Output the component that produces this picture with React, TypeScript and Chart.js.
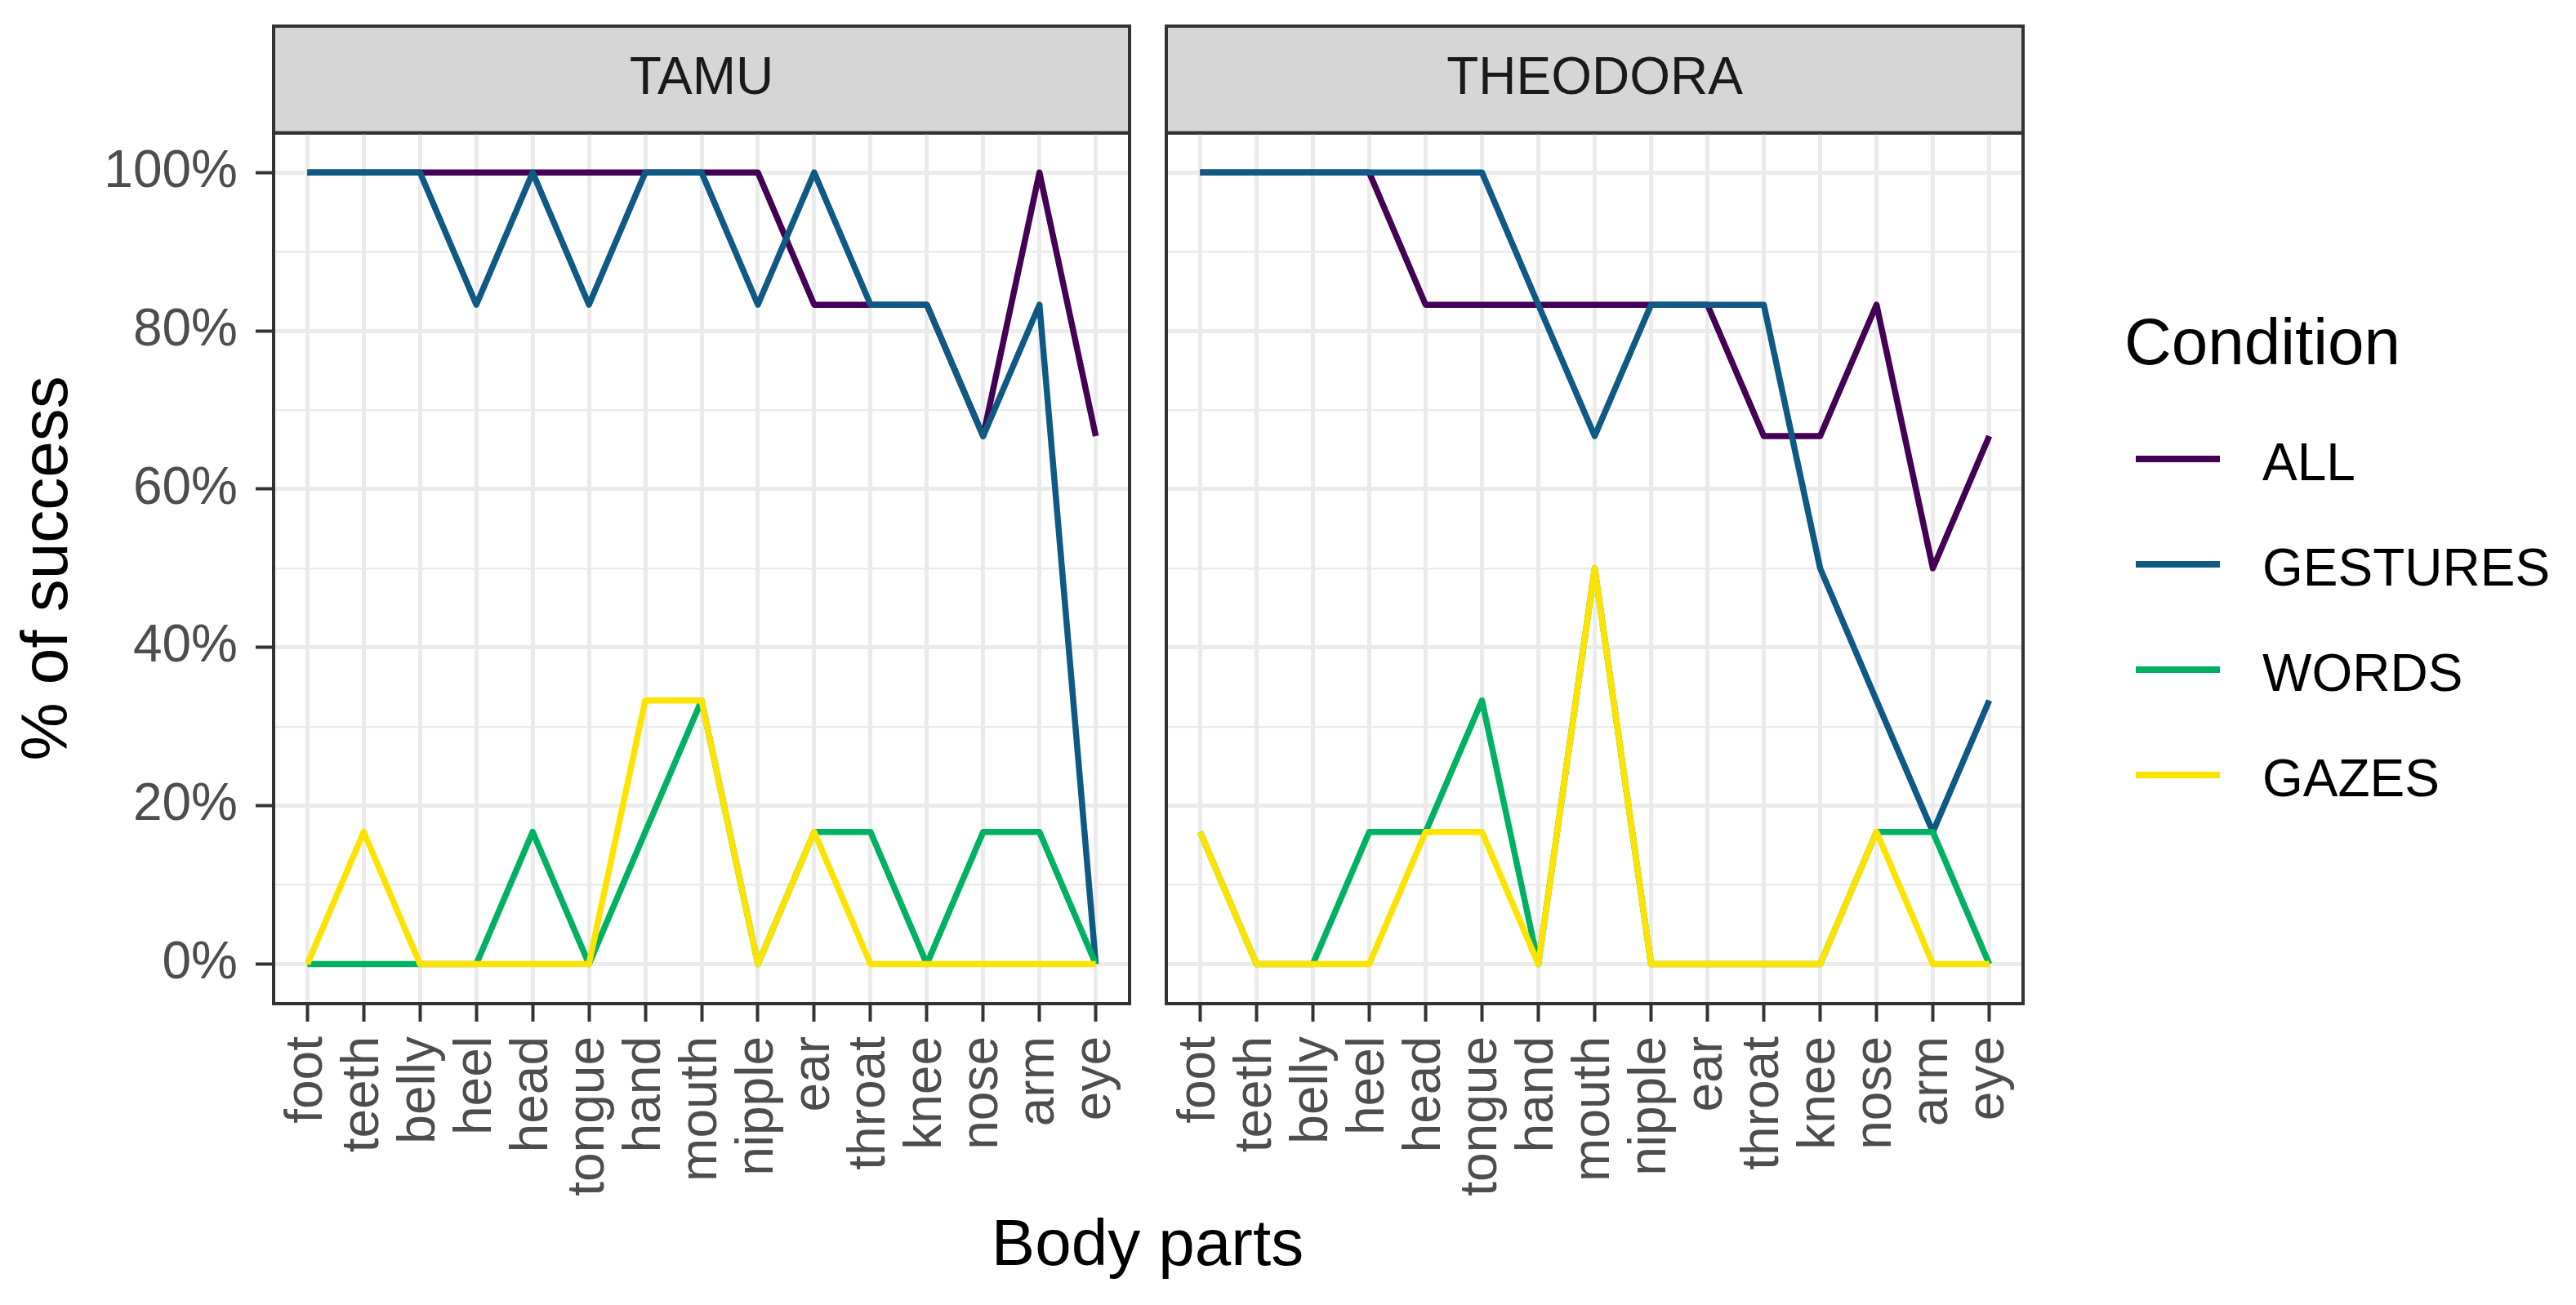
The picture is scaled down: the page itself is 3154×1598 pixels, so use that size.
import React, { useEffect, useRef } from "react";
import { Chart, registerables } from "chart.js";

Chart.register(...registerables);

// ---------- data ----------
const categories = [
  "foot", "teeth", "belly", "heel", "head", "tongue", "hand", "mouth",
  "nipple", "ear", "throat", "knee", "nose", "arm", "eye",
];
const conditions = ["ALL", "GESTURES", "WORDS", "GAZES"];
const conditionColors = ["#440154", "#0F5A84", "#00B163", "#FDE400"];
const yTickValues = [0, 10, 20, 30, 40, 50, 60, 70, 80, 90, 100];
const panelNames = ["TAMU", "THEODORA"];

const tamuAll = [100, 100, 100, 100, 100, 100, 100, 100, 100, 83.3, 83.3, 83.3, 66.7, 100, 66.7];
const tamuGestures = [100, 100, 100, 83.3, 100, 83.3, 100, 100, 83.3, 100, 83.3, 83.3, 66.7, 83.3, 0];
const tamuWords = [0, 0, 0, 0, 16.7, 0, 16.7, 33.3, 0, 16.7, 16.7, 0, 16.7, 16.7, 0];
const tamuGazes = [0, 16.7, 0, 0, 0, 0, 33.3, 33.3, 0, 16.7, 0, 0, 0, 0, 0];

const theoAll = [100, 100, 100, 100, 83.3, 83.3, 83.3, 83.3, 83.3, 83.3, 66.7, 66.7, 83.3, 50, 66.7];
const theoGestures = [100, 100, 100, 100, 100, 100, 83.3, 66.7, 83.3, 83.3, 83.3, 50, 33.3, 16.7, 33.3];
const theoWords = [16.7, 0, 0, 16.7, 16.7, 33.3, 0, 50, 0, 0, 0, 0, 16.7, 16.7, 0];
const theoGazes = [16.7, 0, 0, 0, 16.7, 16.7, 0, 50, 0, 0, 0, 0, 16.7, 0, 0];

const FONT = "'Liberation Sans', Arial, Helvetica, sans-serif";

const panelDecor = {
  id: "panelDecor",
  beforeDraw(chart: any) {
    const { ctx, chartArea } = chart;
    const tb = chart.titleBlock;
    if (!tb) return;
    const top = tb.top;
    const w = chartArea.right - chartArea.left;
    const h = chartArea.top - top;
    ctx.save();
    ctx.fillStyle = "#D6D6D6";
    ctx.fillRect(chartArea.left, top, w, h);
    ctx.lineWidth = 4;
    ctx.strokeStyle = "#333333";
    ctx.strokeRect(chartArea.left, top, w, h);
    ctx.restore();
  },
  afterDatasetsDraw(chart: any) {
    const { ctx, chartArea } = chart;
    ctx.save();
    ctx.lineWidth = 4;
    ctx.strokeStyle = "#333333";
    ctx.strokeRect(
      chartArea.left,
      chartArea.top,
      chartArea.right - chartArea.left,
      chartArea.bottom - chartArea.top
    );
    ctx.restore();
  },
};

function isMajor(ctx: any) {
  return ctx && ctx.tick && ctx.tick.value % 20 === 0;
}

function makeConfig(title: string, series: number[][], first: boolean, padding: any): any {
  return {
    type: "line",
    data: {
      datasets: conditions.map((name, k) => ({
        label: name,
        data: series[k].map((v, i) => ({ x: i, y: v })),
        borderColor: conditionColors[k],
        backgroundColor: conditionColors[k],
        borderWidth: 7.5,
        pointRadius: 0,
        pointHoverRadius: 0,
        fill: false,
        tension: 0,
        borderJoinStyle: "round",
        order: conditions.length - k,
      })),
    },
    options: {
      animation: false,
      responsive: false,
      devicePixelRatio: 1,
      events: [],
      layout: { padding },
      plugins: {
        legend: { display: false },
        tooltip: { enabled: false },
        title: {
          display: true,
          text: title,
          fullSize: false,
          color: "#1A1A1A",
          font: { family: FONT, size: 64, weight: "normal" },
          padding: { top: 27, bottom: 27 },
        },
      },
      scales: {
        x: {
          type: "linear",
          min: -0.6,
          max: 14.6,
          afterBuildTicks: (s: any) => {
            s.ticks = categories.map((_, i) => ({ value: i }));
          },
          afterFit: (s: any) => {
            s.height = 369;
            s.paddingLeft = 0;
            s.paddingRight = 0;
          },
          ticks: {
            autoSkip: false,
            minRotation: 90,
            maxRotation: 90,
            padding: 18,
            color: "#4D4D4D",
            font: { family: FONT, size: 64 },
            callback: (v: any) => categories[v],
          },
          grid: {
            color: "#EBEBEB",
            lineWidth: 5,
            tickLength: 22,
            tickColor: "#333333",
            tickWidth: 4,
          },
          border: { display: false },
        },
        y: {
          type: "linear",
          min: -5,
          max: 105,
          afterBuildTicks: (s: any) => {
            s.ticks = yTickValues.map((v) => ({ value: v }));
          },
          afterFit: (s: any) => {
            s.width = first ? 335 : 0;
            s.paddingTop = 0;
            s.paddingBottom = 0;
          },
          ticks: {
            display: first,
            padding: 22,
            color: "#4D4D4D",
            font: { family: FONT, size: 64 },
            callback: (v: any) => (v % 20 === 0 ? v + "%" : ""),
          },
          grid: {
            color: "#EBEBEB",
            lineWidth: (ctx: any) => (isMajor(ctx) ? 5 : 2.5),
            drawTicks: first,
            tickLength: 22,
            tickColor: (ctx: any) => (isMajor(ctx) ? "#333333" : "rgba(0,0,0,0)"),
            tickWidth: 4,
          },
          border: { display: false },
          title: {
            display: first,
            text: "% of success",
            color: "#000000",
            font: { family: FONT, size: 80 },
            padding: { top: 12, bottom: 0 },
          },
        },
      },
    },
    plugins: [panelDecor],
  };
}

const legendKeyTop = [562, 691, 820, 949];

export default function App() {
  const ref1 = useRef<HTMLCanvasElement>(null);
  const ref2 = useRef<HTMLCanvasElement>(null);

  useEffect(() => {
    const c1 = new Chart(
      ref1.current as HTMLCanvasElement,
      makeConfig(panelNames[0], [tamuAll, tamuGestures, tamuWords, tamuGazes], true, {
        top: 32, left: 0, right: 17, bottom: 0,
      })
    );
    const c2 = new Chart(
      ref2.current as HTMLCanvasElement,
      makeConfig(panelNames[1], [theoAll, theoGestures, theoWords, theoGazes], false, {
        top: 32, left: 28, right: 23, bottom: 0,
      })
    );
    return () => {
      c1.destroy();
      c2.destroy();
    };
  }, []);

  return (
    <div
      style={{
        position: "absolute",
        left: 0,
        top: 0,
        width: 3154,
        height: 1598,
        overflow: "hidden",
        background: "#FFFFFF",
        fontFamily: FONT,
      }}
    >
      <canvas
        ref={ref1}
        width={1400}
        height={1598}
        style={{ position: "absolute", left: 0, top: 0, width: 1400, height: 1598 }}
      />
      <canvas
        ref={ref2}
        width={1100}
        height={1598}
        style={{ position: "absolute", left: 1400, top: 0, width: 1100, height: 1598 }}
      />
      <div
        style={{
          position: "absolute",
          left: 905,
          width: 1000,
          top: 1482,
          textAlign: "center",
          fontSize: 80,
          lineHeight: "80px",
          color: "#000",
          whiteSpace: "nowrap",
        }}
      >
        Body parts
      </div>
      <div
        style={{
          position: "absolute",
          left: 2601,
          top: 379,
          fontSize: 80,
          lineHeight: "80px",
          color: "#000",
          whiteSpace: "nowrap",
        }}
      >
        Condition
      </div>
      {conditions.map((name, k) => (
        <React.Fragment key={name}>
          <div
            style={{
              position: "absolute",
              left: 2615,
              top: legendKeyTop[k] - 4,
              width: 103,
              height: 8,
              background: conditionColors[k],
            }}
          />
          <div
            style={{
              position: "absolute",
              left: 2770,
              top: legendKeyTop[k] - 28,
              fontSize: 64,
              lineHeight: "64px",
              color: "#000",
              whiteSpace: "nowrap",
            }}
          >
            {name}
          </div>
        </React.Fragment>
      ))}
    </div>
  );
}
